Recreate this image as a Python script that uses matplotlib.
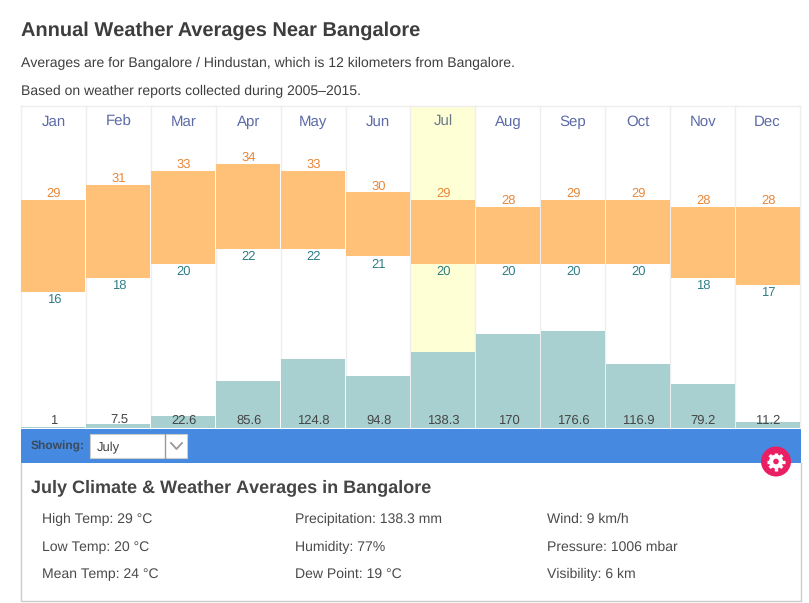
import numpy as np
import matplotlib
matplotlib.use("Agg")
import matplotlib.pyplot as plt
from matplotlib.patches import Rectangle, Circle

plt.rcParams['font.family'] = ['Liberation Sans', 'DejaVu Sans']
plt.rcParams['text.hinting'] = 'no_hinting'
plt.rcParams['text.hinting_factor'] = 1

months = ['Jan', 'Feb', 'Mar', 'Apr', 'May', 'Jun', 'Jul', 'Aug', 'Sep', 'Oct', 'Nov', 'Dec']
high_temp = [29, 31, 33, 34, 33, 30, 29, 28, 29, 29, 28, 28]
low_temp = [16, 18, 20, 22, 22, 21, 20, 20, 20, 20, 18, 17]
precip = [1, 7.5, 22.6, 85.6, 124.8, 94.8, 138.3, 170, 176.6, 116.9, 79.2, 11.2]
selected = 6

col1 = ['High Temp: 29 °C', 'Low Temp: 20 °C', 'Mean Temp: 24 °C']
col2 = ['Precipitation: 138.3 mm', 'Humidity: 77%', 'Dew Point: 19 °C']
col3 = ['Wind: 9 km/h', 'Pressure: 1006 mbar', 'Visibility: 6 km']

W, H = 809, 603
fig = plt.figure(figsize=(W / 100, H / 100), dpi=100, facecolor='white')

# page layer in pixel coordinates, y going down
page = fig.add_axes([0, 0, 1, 1])
page.set_xlim(0, W)
page.set_ylim(H, 0)
page.axis('off')

# chart area, x is month index
def chart_axes(ymin, ymax, z):
    ax = fig.add_axes([21 / W, 1 - 428 / H, 779 / W, 322 / H], zorder=z)
    ax.set_xlim(0, 12)
    ax.set_ylim(ymin, ymax)
    ax.axis('off')
    ax.patch.set_alpha(0)
    return ax

rain_ax = chart_axes(0, 585, 2)
temp_ax = chart_axes(-3.13, 42.16, 3)
x = [i + 0.5 for i in range(12)]

rain_ax.axvspan(selected, selected + 1, color='#ffffd6', lw=0, zorder=0)
for i in range(13):
    rain_ax.axvline(i, color='#eeeeee', lw=1, zorder=1, clip_on=False)
rain_ax.axhline(585, color='#eeeeee', lw=1, zorder=1, clip_on=False)

rain_ax.bar(x, precip, width=0.985, color='#a8d0d0', lw=0, zorder=2)
for xi, p in zip(x, precip):
    rain_ax.annotate(str(p), (xi, 0), xytext=(0.4, 2.9), textcoords='offset points',
                     ha='center', va='baseline', fontsize=9, color='#454545')

temp_ax.bar(x, [h - l for h, l in zip(high_temp, low_temp)], bottom=low_temp,
            width=0.985, color='#ffc177', lw=0)
for xi, h, l in zip(x, high_temp, low_temp):
    temp_ax.annotate(str(h), (xi, h), xytext=(0.4, 2.2), textcoords='offset points',
                     ha='center', va='baseline', fontsize=9, color='#e8883a')
    temp_ax.annotate(str(l), (xi, l), xytext=(0.4, -8), textcoords='offset points',
                     ha='center', va='baseline', fontsize=9, color='#2f7f86')
for i, m in enumerate(months):
    temp_ax.text(i + 0.5, 0.937, m, transform=temp_ax.get_xaxis_transform(),
                 ha='center', va='baseline', fontsize=10.5,
                 color='#6a7a8a' if i == selected else '#5c6ba8')

# heading
page.text(21, 36, 'Annual Weather Averages Near Bangalore', fontsize=14.3, weight='bold',
          color='#3d3d3d', va='baseline')
page.text(21, 67, 'Averages are for Bangalore / Hindustan, which is 12 kilometers from Bangalore.',
          fontsize=10, color='#3f3f3f', va='baseline')
page.text(21, 95, 'Based on weather reports collected during 2005–2015.',
          fontsize=10, color='#3f3f3f', va='baseline')

# selector bar
page.add_patch(Rectangle((21, 429), 780, 34, color='#4589e0', lw=0))
page.text(31, 449, 'Showing:', fontsize=8.8, weight='bold', color='#3b4a5c', va='baseline')
page.add_patch(Rectangle((90, 434), 97, 24, facecolor='white', edgecolor='#cccccc', lw=0.8))
page.plot([165.5, 165.5], [434, 458], color='#999999', lw=1)
page.plot([171, 176.5, 182], [443, 449, 443], color='#999999', lw=1.3)
page.text(97, 451, 'July', fontsize=9, color='#444444', va='baseline')

# detail panel
page.plot([21.5, 21.5, 801, 801], [463, 601, 601, 463], color='#cccccc', lw=1)
page.text(31, 492, 'July Climate & Weather Averages in Bangalore', fontsize=13, weight='bold',
          color='#454545', va='baseline')
for cx, col in zip([42, 295, 547], [col1, col2, col3]):
    for cy, s in zip([523, 551, 578], col):
        page.text(cx, cy, s, fontsize=10, color='#4a4a4a', va='baseline')

# settings button, cog built from a disc and four crossed bars
gx, gy = 776, 461.5
page.add_patch(Circle((gx, gy), 15, color='#e91e63', lw=0, zorder=5))
page.add_patch(Circle((gx, gy), 7, color='white', lw=0, zorder=6))
for a in np.radians([0, 45, 90, 135]):
    dx, dy = 9 * np.cos(a), 9 * np.sin(a)
    page.plot([gx - dx, gx + dx], [gy - dy, gy + dy], color='white', lw=2.4,
              solid_capstyle='butt', zorder=6)
page.add_patch(Circle((gx, gy), 2.8, color='#e91e63', lw=0, zorder=7))

fig.savefig('out.png', dpi=100)
